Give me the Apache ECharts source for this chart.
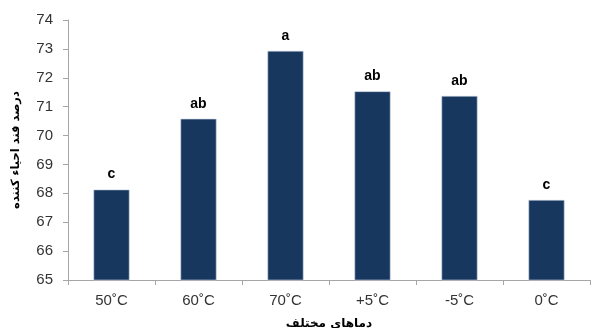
<!DOCTYPE html>
<html><head><meta charset="utf-8">
<script src="https://cdn.jsdelivr.net/npm/echarts@6/dist/echarts.min.js"></script>
<style>html,body{margin:0;padding:0;background:#fff}#c{width:616px;height:328px}</style>
</head><body><div id="c"></div>
<script>
const categories = ['50˚C','60˚C','70˚C','+5˚C','-5˚C','0˚C'];
const values = [68.13, 70.58, 72.93, 71.53, 71.37, 67.77];
const letters = ['c','ab','a','ab','ab','c'];
const yTicks = [65,66,67,68,69,70,71,72,73,74];
const chart = echarts.init(document.getElementById('c'));
chart.setOption({
  animation:false,
  grid:{left:68,right:26,top:20,bottom:48,containLabel:false,outerBoundsMode:'none'},
  xAxis:{type:'category',data:categories,
    name:'دماهای مختلف',nameLocation:'middle',nameGap:38,
    nameTextStyle:{fontFamily:'DejaVu Sans',fontWeight:'bold',fontSize:12,color:'#000'},
    axisLine:{lineStyle:{color:'#a6a6a6'}},
    axisTick:{show:true,alignWithLabel:false,length:5,lineStyle:{color:'#a6a6a6'}},
    axisLabel:{fontFamily:'Liberation Sans',fontSize:15,color:'#333',margin:13}},
  yAxis:{type:'value',min:yTicks[0],max:yTicks[yTicks.length-1],interval:1,
    name:'درصد قند احیاء کننده',nameLocation:'middle',nameGap:46,nameRotate:90,
    nameTextStyle:{fontFamily:'DejaVu Sans',fontWeight:'bold',fontSize:11.5,color:'#000'},
    axisLine:{show:true,lineStyle:{color:'#a6a6a6'}},
    axisTick:{show:true,length:5,lineStyle:{color:'#a6a6a6'}},
    splitLine:{show:false},
    axisLabel:{fontFamily:'Liberation Sans',fontSize:15,color:'#333',margin:15}},
  series:[{type:'bar',data:values,barWidth:36,
    itemStyle:{color:'#17375e',borderColor:'#c3cfdf',borderWidth:0.6},
    label:{show:true,position:'top',distance:8,formatter:p=>letters[p.dataIndex],
      fontFamily:'Liberation Sans',fontWeight:'bold',fontSize:14,color:'#000'}}]
});
</script></body></html>
